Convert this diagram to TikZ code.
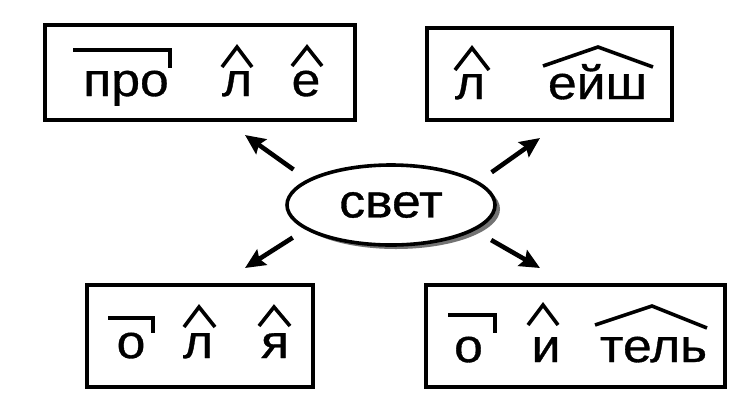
\documentclass[tikz,border=0pt]{standalone}
\usepackage{fontspec}
\setmainfont{Liberation Sans}[FakeStretch=1.1,FakeBold=0.7]
\usetikzlibrary{arrows.meta,shapes.geometric,shadows}
\tikzset{>={Stealth[length=20pt,width=18pt,inset=3pt]}}
\tikzset{
  wordbox/.style={draw, line width=4.4pt, inner sep=0pt},
  morph/.style={inner sep=0pt, anchor=base, font=\fontsize{47}{50}\selectfont},
  rootnode/.style={ellipse, draw, line width=3.6pt, fill=white, inner sep=0pt,
    minimum width=208pt, minimum height=80pt, font=\fontsize{47}{50}\selectfont,
    drop shadow={shadow xshift=5pt, shadow yshift=-4pt, fill=black!55, opacity=1}},
  morphmark/.style={line width=3.6pt, line join=miter},
  ray/.style={->, line width=4.6pt}
}

\begin{document}
\begin{tikzpicture}[x=1pt,y=-1pt]
    \useasboundingbox[fill=white] (0,0) rectangle (752,400);

    % frames
    \node[wordbox, minimum width=310pt, minimum height=95pt] (box1) at (200,72.5) {};
    \node[wordbox, minimum width=245pt, minimum height=92pt] (box2) at (549.5,74) {};
    \node[wordbox, minimum width=226pt, minimum height=102pt] (box3) at (200,336) {};
    \node[wordbox, minimum width=299pt, minimum height=102pt] (box4) at (575.5,336) {};

    % the word in the middle
    \node[rootnode] (root) at (391,205) {свет};

    % top left: про-л-е
    \node[morph] (pre1) at (126,96) {про};
    \node[morph] (rt1) at (237,96) {л};
    \node[morph] (rt2) at (306,96) {е};
    \draw[morphmark] (73,50) -- (170,50) -- (170,68);
    \draw[morphmark] (222,67) -- (237,47) -- (252,67);
    \draw[morphmark] (292,66) -- (307,47) -- (322,66);

    % top right: л-ейш
    \node[morph] (rt3) at (470,99) {л};
    \node[morph] (suf1) at (597.5,99) {ейш};
    \draw[morphmark] (455,70) -- (472,48) -- (489,70);
    \draw[morphmark] (543,66) -- (598,47) -- (653,67);

    % bottom left: о-л-я
    \node[morph] (pre2) at (131,358) {о};
    \node[morph] (rt4) at (198,358) {л};
    \node[morph] (rt5) at (275,358) {я};
    \draw[morphmark] (108,318) -- (153,318) -- (153,333);
    \draw[morphmark] (184,327) -- (199,307) -- (215,327);
    \draw[morphmark] (259,326) -- (274,307) -- (290,326);

    % bottom right: о-и-тель
    \node[morph] (pre3) at (468.5,362) {о};
    \node[morph] (rt6) at (546,362) {и};
    \node[morph] (suf2) at (653.5,362) {тель};
    \draw[morphmark] (448,315) -- (495,315) -- (495,333);
    \draw[morphmark] (528,325) -- (543,305) -- (558,325);
    \draw[morphmark] (595,325) -- (652,306) -- (707,328);

    % arrows out of the ellipse
    \coordinate (tip1) at (245,135);
    \coordinate (tip2) at (540,138);
    \coordinate (tip3) at (245,268);
    \coordinate (tip4) at (540,268);
    \draw[ray, shorten <=17pt] (root.163) -- (tip1);
    \draw[ray, shorten <=16pt] (root.15) -- (tip2);
    \draw[ray, shorten <=15pt] (root.196) -- (tip3);
    \draw[ray, shorten <=19pt] (root.343) -- (tip4);
\end{tikzpicture}
\end{document}
